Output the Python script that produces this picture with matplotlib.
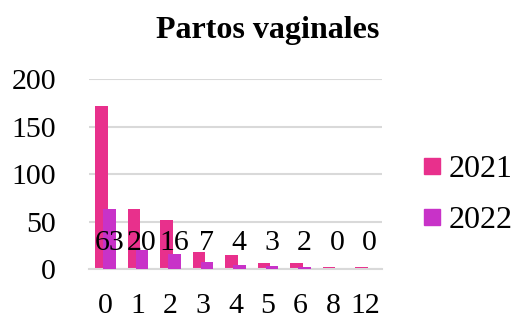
import matplotlib
matplotlib.use("Agg")
import matplotlib.pyplot as plt
from matplotlib.lines import Line2D
from matplotlib.transforms import blended_transform_factory
import numpy as np

categories = ["0", "1", "2", "3", "4", "5", "6", "8", "12"]
values_2021 = [172, 63, 52, 18, 15, 6, 6, 2, 2]
values_2022 = [63, 20, 16, 7, 4, 3, 2, 0, 0]
series_names = ["2021", "2022"]
y_ticks = [0, 50, 100, 150, 200]

color_2021 = "#E8308C"
color_2022 = "#C832C8"

plt.rcParams["font.family"] = ["Liberation Serif", "DejaVu Serif"]

fs = 21.5

fig = plt.figure(figsize=(5.13, 3.2), dpi=100)
ax = fig.add_axes([0.174, 0.159, 0.570, 0.594])

x = np.arange(len(categories))
width = 0.38
offset = 0.12
ax.bar(x - offset, values_2021, width, color=color_2021, zorder=2)
ax.bar(x + offset, values_2022, width, color=color_2022, zorder=3)

# Data labels for the 2022 series, all drawn at the same height near the base
trans = blended_transform_factory(ax.transData, ax.transAxes)
for xi, v in zip(x, values_2022):
    ax.text(xi + offset, 0.14, str(v), transform=trans, ha="center", va="center",
            fontsize=fs, color="black", zorder=4)

ax.set_xlim(-0.5, len(categories) - 0.5)
ax.set_ylim(0, 200)
ax.set_yticks(y_ticks)
ax.set_xticks(x)
ax.set_xticklabels(categories)
ax.tick_params(axis="both", length=0, labelsize=fs)
ax.tick_params(axis="x", pad=17.5)
ax.tick_params(axis="y", pad=24)
ax.yaxis.grid(True, color="#D9D9D9", linewidth=1.5, zorder=0)
ax.set_axisbelow(True)
for side in ["top", "right", "left"]:
    ax.spines[side].set_visible(False)
ax.spines["bottom"].set_color("#D9D9D9")
ax.spines["bottom"].set_linewidth(1.5)

fig.text(0.521, 0.906, "Partos vaginales", ha="center", va="center",
         fontsize=23, fontweight="bold")

handles = [
    Line2D([], [], marker="s", linestyle="none", markersize=11.5, color=c)
    for c in (color_2021, color_2022)
]
fig.legend(handles, series_names, loc="center left", bbox_to_anchor=(0.802, 0.39),
           frameon=False, fontsize=23, handlelength=0.5, handletextpad=0.25,
           labelspacing=0.68, borderaxespad=0)

fig.savefig("out.png", dpi=100)
